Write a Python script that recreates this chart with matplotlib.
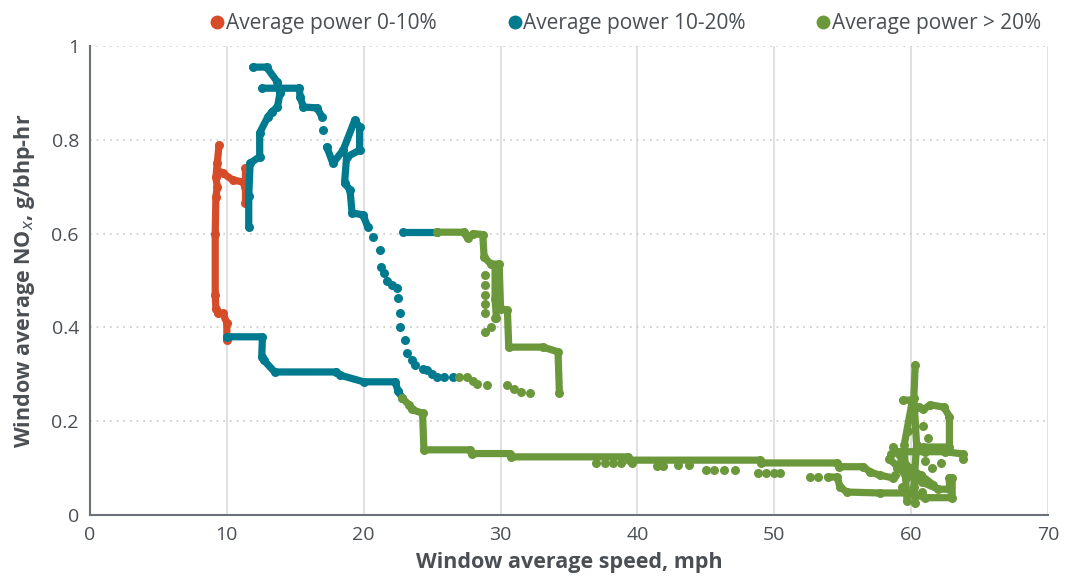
import matplotlib.pyplot as plt
from matplotlib.lines import Line2D
from matplotlib.ticker import FuncFormatter

RED = '#d64b28'
TEAL = '#007a8e'
GREEN = '#6b983b'
TEXT = '#4a4f55'

# red: average power 0-10%
red_x = [9.43, 9.3, 9.2, 9.3, 9.2, 9.15, 9.15, 9.2, 9.35, 9.7, 10.0, 10.0]
red_y = [0.789, 0.75, 0.72, 0.70, 0.678, 0.6, 0.47, 0.44, 0.43, 0.43, 0.41, 0.373]
red_branch_x = [9.3, 9.7, 10.45, 11.2]
red_branch_y = [0.735, 0.729, 0.714, 0.71]
red_stub_x = [11.3, 11.3, 11.3]
red_stub_y = [0.74, 0.70, 0.665]

# teal: average power 10-20%
teal_low_x = [10.0, 12.6, 12.55, 12.7, 13.5, 18.0, 18.3, 20.0, 22.3, 22.5, 22.8]
teal_low_y = [0.38, 0.38, 0.337, 0.33, 0.305, 0.305, 0.298, 0.284, 0.284, 0.265, 0.25]
teal_up_x = [11.6, 11.6, 11.7, 12.4, 12.4, 13.0, 13.3, 13.7, 13.9]
teal_up_y = [0.615, 0.68, 0.75, 0.764, 0.815, 0.849, 0.86, 0.87, 0.902]
teal_top_x = [11.9, 12.9, 13.7, 13.9]
teal_top_y = [0.955, 0.955, 0.923, 0.90]
teal_ridge_x = [12.6, 15.3, 15.35, 15.6, 16.6, 16.95]
teal_ridge_y = [0.91, 0.91, 0.891, 0.87, 0.868, 0.849]
teal_loop_x = [17.3, 17.75, 18.5, 19.35, 19.7, 19.7, 18.75, 18.6, 19.0, 19.15, 19.95, 20.3]
teal_loop_y = [0.785, 0.75, 0.778, 0.842, 0.827, 0.778, 0.763, 0.708, 0.693, 0.644, 0.64, 0.614]
teal_dots_x = [17.0, 20.7, 21.2, 21.3, 21.5, 21.7, 22.1, 22.4, 22.5, 22.65, 22.65, 23.0,
               23.2, 23.5, 23.75, 24.3, 24.6, 25.0, 25.35, 25.9, 26.5]
teal_dots_y = [0.82, 0.593, 0.565, 0.529, 0.515, 0.50, 0.49, 0.484, 0.463, 0.431, 0.40, 0.373,
               0.345, 0.33, 0.32, 0.312, 0.309, 0.30, 0.294, 0.294, 0.294]
teal_mid_x = [22.9, 25.35]
teal_mid_y = [0.603, 0.603]

# green: average power > 20%
green_main_x = [22.8, 23.3, 23.5, 24.3, 24.4, 27.8, 27.9, 30.7, 30.8, 39.3, 39.4, 48.95, 49.0,
                54.6, 54.7, 56.5, 57.0, 57.7, 58.7]
green_main_y = [0.25, 0.235, 0.225, 0.217, 0.139, 0.139, 0.131, 0.131, 0.124, 0.124, 0.117, 0.117, 0.111,
                0.111, 0.103, 0.103, 0.092, 0.085, 0.079]
green_upper_x = [25.35, 27.3, 27.6, 28.0, 28.7, 28.8, 29.3, 29.9, 30.0, 30.5, 30.6, 33.1, 34.2, 34.3]
green_upper_y = [0.603, 0.603, 0.59, 0.6, 0.598, 0.55, 0.535, 0.535, 0.44, 0.437, 0.358, 0.358, 0.348, 0.26]
green_col_x = [29.6, 29.6, 29.7]
green_col_y = [0.53, 0.46, 0.42]
green_dots_x = [28.86, 28.86, 28.86, 28.86, 28.86, 28.9, 29.3, 29.6, 29.8,
                27.0, 27.55, 28.0, 28.3, 29.0, 30.5, 31.0, 31.5, 32.15,
                37.0, 37.6, 38.2, 38.8, 39.6, 41.4, 41.9, 43.0, 43.8, 45.0, 45.6, 46.3, 47.1,
                48.8, 49.4, 50.0, 50.4, 52.6, 53.2]
green_dots_y = [0.512, 0.49, 0.47, 0.45, 0.43, 0.39, 0.40, 0.42, 0.45,
                0.294, 0.294, 0.285, 0.28, 0.278, 0.277, 0.268, 0.262, 0.26,
                0.11, 0.11, 0.11, 0.11, 0.11, 0.104, 0.104, 0.107, 0.107, 0.096, 0.096, 0.096, 0.096,
                0.089, 0.089, 0.089, 0.089, 0.081, 0.081]
green_low_x = [53.9, 54.6, 54.8, 55.3, 57.7, 59.9, 61.0, 63.0, 63.0]
green_low_y = [0.081, 0.081, 0.06, 0.049, 0.047, 0.047, 0.037, 0.037, 0.08]
green_tall_a_x = [60.3, 60.2, 60.4, 60.2, 60.3]
green_tall_a_y = [0.32, 0.25, 0.15, 0.06, 0.026]
green_tall_b_x = [59.4, 60.1, 59.5, 59.6, 59.7]
green_tall_b_y = [0.245, 0.245, 0.15, 0.08, 0.03]
green_box_x = [60.6, 60.9, 61.4, 62.4, 62.8, 62.8, 60.9]
green_box_y = [0.23, 0.225, 0.235, 0.23, 0.21, 0.145, 0.145]
green_ext_x = [59.0, 61.0, 62.5, 63.8, 63.8]
green_ext_y = [0.135, 0.135, 0.135, 0.13, 0.12]
green_cross_x = [58.4, 59.5, 60.8, 62.0, 62.8, 62.8]
green_cross_y = [0.12, 0.09, 0.07, 0.055, 0.055, 0.08]
green_web_x = [58.7, 59.3, 59.9, 60.7, 61.6]
green_web_y = [0.145, 0.12, 0.10, 0.085, 0.065]
green_knot_x = [58.5, 59.0, 59.3, 61.5, 61.2, 62.2, 58.8, 60.8, 59.2, 60.9, 59.8, 61.0]
green_knot_y = [0.13, 0.10, 0.06, 0.10, 0.165, 0.11, 0.085, 0.05, 0.11, 0.19, 0.18, 0.115]

legend_labels = ['Average power 0-10%', 'Average power 10-20%', 'Average power > 20%']

plt.rcParams['font.family'] = ['Open Sans', 'DejaVu Sans']

fig = plt.figure(figsize=(10.65, 5.83), dpi=100)
ax = fig.add_axes([0.0845, 0.1166, 0.8995, 0.8045])


def trace(xs, ys, color):
    ax.plot(xs, ys, color=color, lw=5.2, solid_capstyle='round',
            solid_joinstyle='round', marker='o', ms=6.5, mew=0, zorder=3)


def dots(xs, ys, color):
    ax.plot(xs, ys, ls='none', color=color, marker='o', ms=6.5, mew=0, zorder=3)


for xs, ys in [(red_x, red_y), (red_branch_x, red_branch_y), (red_stub_x, red_stub_y)]:
    trace(xs, ys, RED)

for xs, ys in [(teal_low_x, teal_low_y), (teal_up_x, teal_up_y), (teal_top_x, teal_top_y),
               (teal_ridge_x, teal_ridge_y), (teal_loop_x, teal_loop_y), (teal_mid_x, teal_mid_y)]:
    trace(xs, ys, TEAL)
dots(teal_dots_x, teal_dots_y, TEAL)

for xs, ys in [(green_main_x, green_main_y), (green_upper_x, green_upper_y), (green_col_x, green_col_y),
               (green_low_x, green_low_y), (green_tall_a_x, green_tall_a_y), (green_tall_b_x, green_tall_b_y),
               (green_box_x, green_box_y), (green_ext_x, green_ext_y), (green_cross_x, green_cross_y),
               (green_web_x, green_web_y)]:
    trace(xs, ys, GREEN)
dots(green_dots_x, green_dots_y, GREEN)
dots(green_knot_x, green_knot_y, GREEN)

ax.set_xlim(0, 70)
ax.set_ylim(0, 1)
ax.set_xticks(range(0, 71, 10))
ax.set_yticks([0, 0.2, 0.4, 0.6, 0.8, 1.0])
ax.yaxis.set_major_formatter(FuncFormatter(lambda v, p: '%g' % v))

ax.xaxis.grid(True, color='#dcdcdc', lw=1.2)
ax.yaxis.grid(True, color='#c8c8c8', lw=1.2, ls=(0, (1, 3)))
ax.set_axisbelow(True)
for s in ['top', 'right']:
    ax.spines[s].set_visible(False)
for s in ['left', 'bottom']:
    ax.spines[s].set_color('#6b7178')
    ax.spines[s].set_linewidth(1.5)
ax.tick_params(length=0, labelsize=14, colors=TEXT, pad=8)

ax.set_xlabel('Window average speed, mph', fontsize=15.5, fontweight='bold', color=TEXT, labelpad=6)
ax.set_ylabel('Window average NO$_x$, g/bhp-hr', fontsize=15.5, fontweight='bold', color=TEXT, labelpad=10)

handles = [Line2D([], [], ls='none', marker='o', ms=10, mew=0, color=c) for c in (RED, TEAL, GREEN)]
fig.legend(handles, legend_labels, loc='upper right', bbox_to_anchor=(0.995, 1.01), ncol=3,
           frameon=False, fontsize=15, handlelength=0.5, handletextpad=0.15, columnspacing=3.5,
           labelcolor=TEXT)

fig.savefig('out.png', dpi=100)
